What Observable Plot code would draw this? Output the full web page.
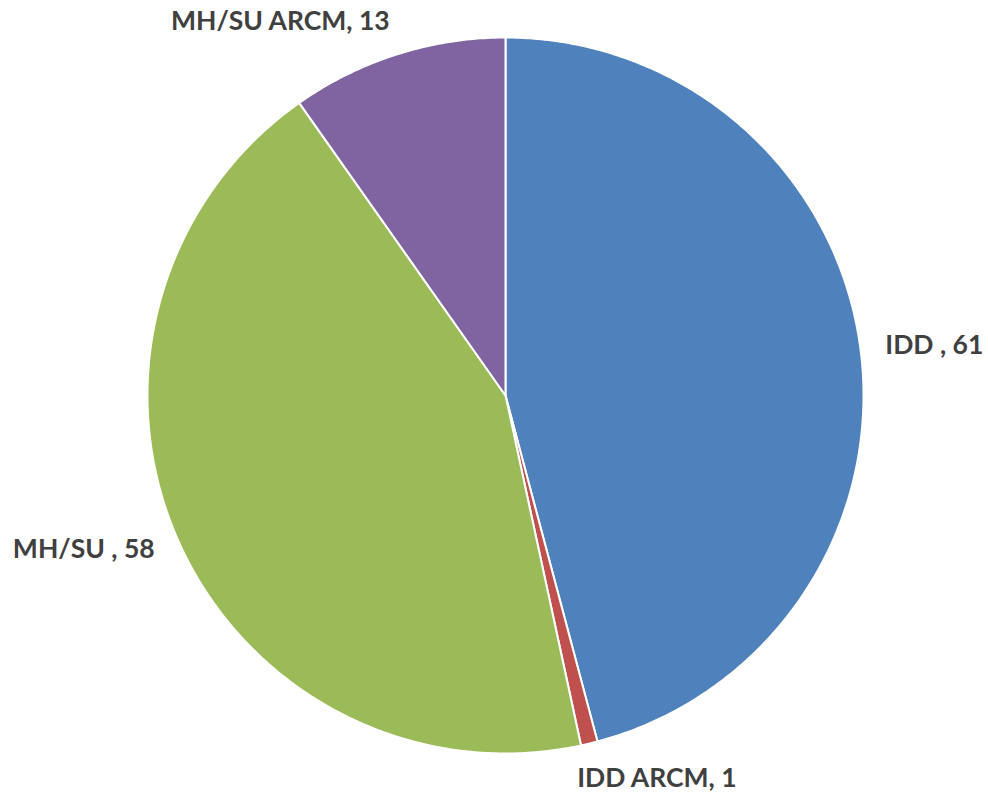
<!DOCTYPE html>
<html>
<head>
<meta charset="utf-8">
<script src="https://cdn.jsdelivr.net/npm/d3@7"></script>
<script src="https://cdn.jsdelivr.net/npm/@observablehq/plot@0.6"></script>
<style>
  html, body { margin: 0; padding: 0; background: #fff; }
  #chart svg { display: block; }
</style>
</head>
<body>
<div id="chart"></div>
<script>
const categories = ["IDD", "IDD ARCM", "MH/SU", "MH/SU ARCM"];
const values = [61, 1, 58, 13];
const labels = ["IDD , 61", "IDD ARCM, 1", "MH/SU , 58", "MH/SU ARCM, 13"];
const colors = ["#4F81BD", "#C0504D", "#9BBB59", "#8064A2"];

const W = 988, H = 801;
const cx = 505, cy = 395, R = 358;

const arcs = d3.pie().sort(null).value(d => d)(values);

// polygon vertices for each slice in unit coordinates (angle clockwise from top)
const polyPts = [];
arcs.forEach((a, i) => {
  polyPts.push({cat: categories[i], x: 0, y: 0});
  const n = Math.max(2, Math.ceil((a.endAngle - a.startAngle) / 0.01));
  for (let k = 0; k <= n; k++) {
    const t = a.startAngle + (a.endAngle - a.startAngle) * k / n;
    polyPts.push({cat: categories[i], x: Math.sin(t), y: Math.cos(t)});
  }
});

const labelPts = arcs.map((a, i) => {
  const m = (a.startAngle + a.endAngle) / 2;
  const s = Math.sin(m), c = Math.cos(m);
  return {
    label: labels[i],
    x: 1.07 * s, y: 1.07 * c,
    anchor: s > 0.1 ? "start" : s < -0.1 ? "end" : "middle",
    line: c > 0.5 ? "bottom" : c < -0.5 ? "top" : "middle",
    dx: (c < -0.5 && s > 0) ? -18 : 0
  };
});

const groups = d3.groups(labelPts, d => d.anchor + "|" + d.line);

const chart = Plot.plot({
  width: W, height: H,
  margin: 0,
  x: {domain: [-1, 1], range: [cx - R, cx + R], axis: null},
  y: {domain: [-1, 1], range: [cy + R, cy - R], axis: null},
  color: {domain: categories, range: colors},
  style: {fontFamily: "Lato, 'Open Sans', sans-serif"},
  marks: [
    Plot.line(polyPts, {x: "x", y: "y", z: "cat", fill: "cat", stroke: "white", strokeWidth: 2, curve: "linear-closed", strokeLinejoin: "round"}),
    ...groups.map(([key, g]) => Plot.text(g, {
      x: "x", y: "y", text: "label",
      textAnchor: g[0].anchor, lineAnchor: g[0].line, dx: g[0].dx,
      fontSize: 26.5, fontWeight: "bold", fill: "#404040"
    }))
  ]
});
document.getElementById("chart").appendChild(chart);
</script>
</body>
</html>
